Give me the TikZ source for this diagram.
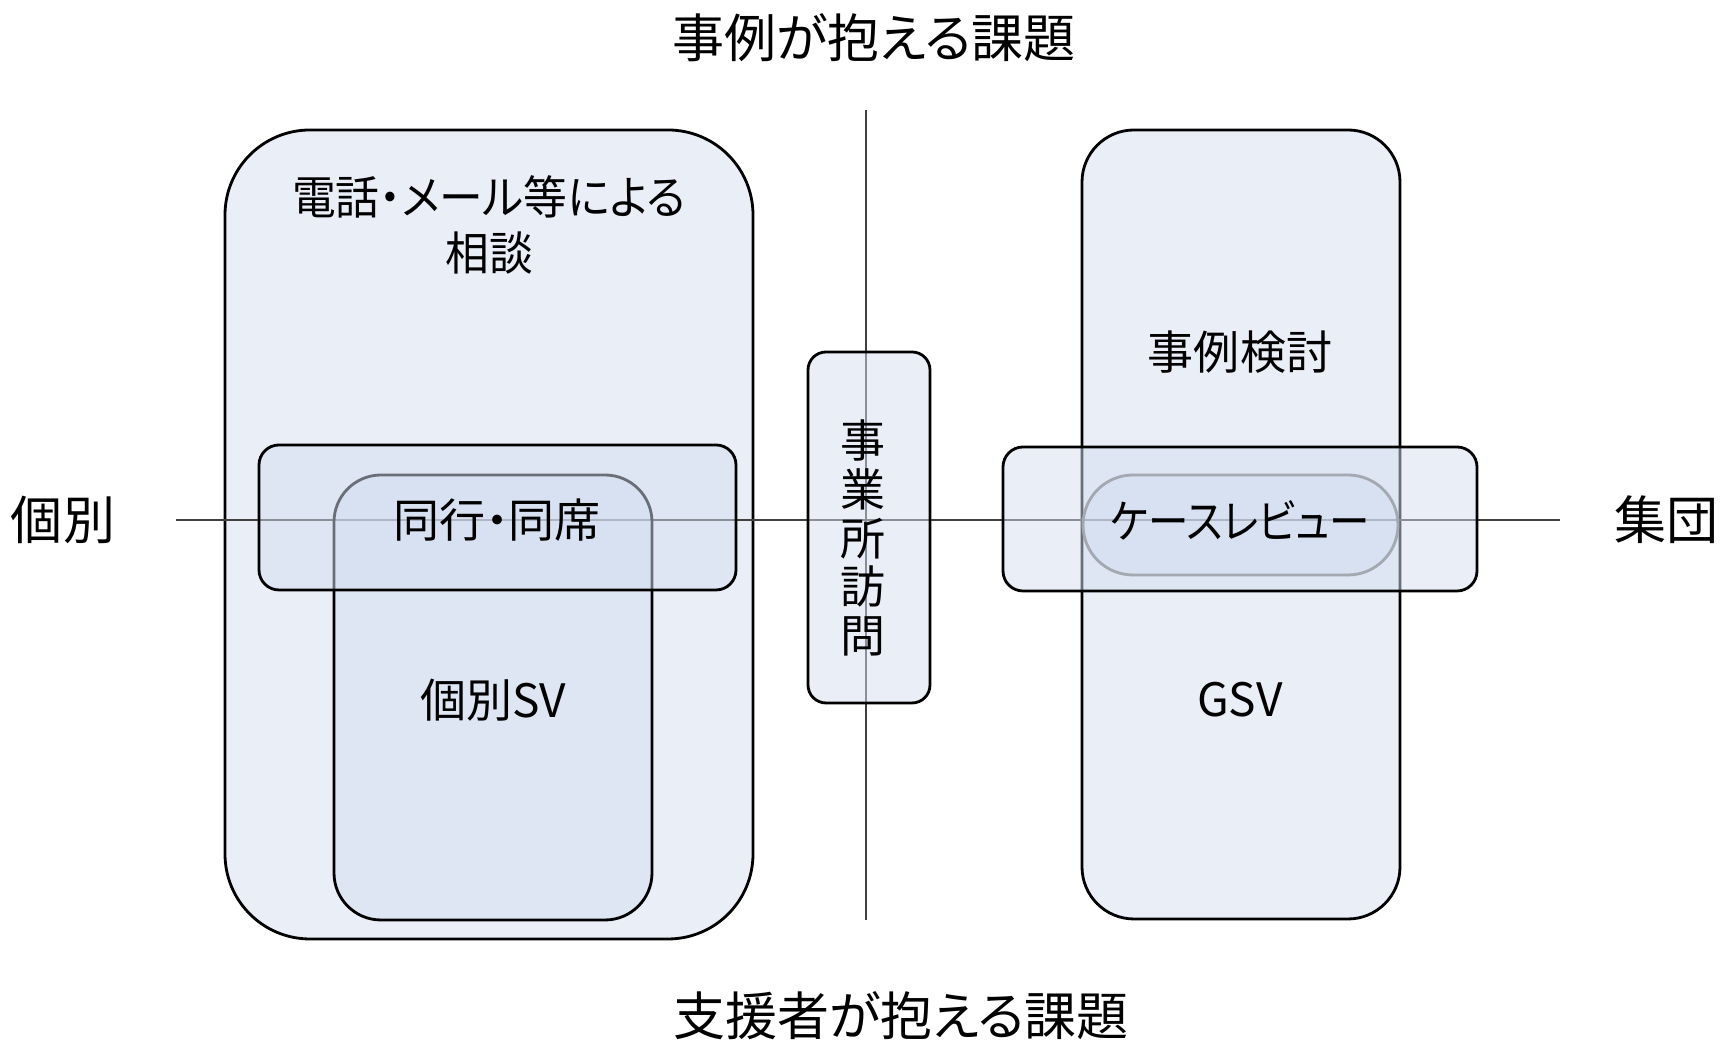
\documentclass[tikz,border=0pt]{standalone}
\usepackage{fontspec}
\setmainfont{Noto Sans CJK JP}[RawFeature=+palt]
\definecolor{boxblue}{HTML}{D3DDEF}
\begin{document}
\begin{tikzpicture}[
    box/.style={draw=black, line width=0.8pt, fill=boxblue, fill opacity=0.5},
    axis/.style={draw=black!75, line width=0.45pt},
    label/.style={font=\fontsize{13.1}{15.9}\selectfont, align=center, inner sep=0pt},
    title/.style={font=\fontsize{14.8}{18}\selectfont, inner sep=0pt}]
    \useasboundingbox (0,0) rectangle (17.23,10.40);

    % Draw the two tall boxes under the axes
    \path[box, rounded corners=0.85cm] (2.25,1.01) rectangle (7.53,9.10);
    \path[box, rounded corners=0.52cm] (10.82,1.21) rectangle (14.00,9.10);

    % Draw the axes
    \coordinate (top) at (8.66,9.30);
    \coordinate (bottom) at (8.66,1.20);
    \coordinate (left) at (1.76,5.20);
    \coordinate (right) at (15.60,5.20);
    \draw[axis] (top) -- (bottom);
    \draw[axis] (left) -- (right);

    % Draw the boxes on top of the axes
    \path[box, rounded corners=0.18cm] (8.08,3.37) rectangle (9.30,6.88);
    \path[box, rounded corners=0.47cm] (3.34,1.20) rectangle (6.52,5.65);
    \path[box, rounded corners=0.20cm] (2.59,4.50) rectangle (7.36,5.95);
    \path[box, draw=black!55, rounded corners=0.50cm] (10.83,4.65) rectangle (13.98,5.65);
    \path[box, rounded corners=0.20cm] (10.03,4.49) rectangle (14.77,5.93);

    % Titles of the axes
    \node[title] (case) at (8.74,10.02) {事例が抱える課題};
    \node[title] (staff) at (9.01,0.24) {支援者が抱える課題};
    \node[title] (single) at (0.63,5.20) {個別};
    \node[title] (group) at (16.66,5.20) {集団};

    % Labels of the boxes
    \node[label, xscale=0.95, transform shape] (phone) at (4.89,8.15) {電話・メール等による\\相談};
    \node[label] (visit) at (4.97,5.20) {同行・同席};
    \node[label] (sv) at (4.93,3.40) {個別SV};
    \node[label, font=\fontsize{12.8}{13.9}\selectfont] (office) at (8.63,5.02) {事\\業\\所\\訪\\問};
    \node[label] (study) at (12.40,6.88) {事例検討};
    \node[label, xscale=0.88, transform shape] (review) at (12.40,5.20) {ケースレビュー};
    \node[label] (gsv) at (12.40,3.40) {GSV};
\end{tikzpicture}
\end{document}
